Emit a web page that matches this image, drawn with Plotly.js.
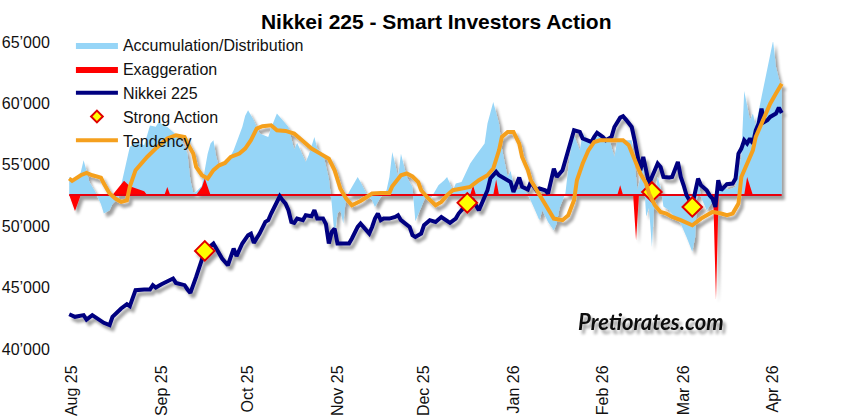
<!DOCTYPE html>
<html><head><meta charset="utf-8">
<script src="https://cdn.plot.ly/plotly-3.0.1.min.js"></script>
<style>
html,body{margin:0;padding:0;background:#fff;}
#chart{width:846px;height:420px;}
</style>
</head><body>
<svg width="0" height="0" style="position:absolute">
 <defs>
  <filter id="shadow" x="-5%" y="-10%" width="115%" height="130%">
   <feGaussianBlur in="SourceAlpha" stdDeviation="1.8" result="blur"/>
   <feOffset in="blur" dx="3" dy="4" result="off"/>
   <feComponentTransfer in="off" result="soft"><feFuncA type="linear" slope="0.38"/></feComponentTransfer>
   <feMerge><feMergeNode in="soft"/><feMergeNode in="SourceGraphic"/></feMerge>
  </filter>
 </defs>
</svg>
<div id="chart"></div>
<script>
const B = 52550; // baseline level of the Accumulation/Distribution band

const monthTickDates = ['2025-08-01','2025-09-01','2025-10-01','2025-11-01','2025-12-01','2026-01-01','2026-02-01','2026-03-01','2026-04-01'];
const monthTickLabels = ['Aug 25','Sep 25','Oct 25','Nov 25','Dec 25','Jan 26','Feb 26','Mar 26','Apr 26'];
const yTickVals = [40000,45000,50000,55000,60000,65000];
const yTickLabels = ['40’000','45’000','50’000','55’000','60’000','65’000'];

const nikkeiDates = [
 '2025-07-31','2025-08-02','2025-08-05','2025-08-06','2025-08-08','2025-08-10','2025-08-12','2025-08-14','2025-08-15','2025-08-18','2025-08-20','2025-08-21','2025-08-22','2025-08-23','2025-08-26','2025-08-28','2025-08-29','2025-08-30',
 '2025-09-01','2025-09-03','2025-09-05','2025-09-06','2025-09-09','2025-09-10','2025-09-11','2025-09-13','2025-09-15','2025-09-16','2025-09-19','2025-09-21','2025-09-22','2025-09-24','2025-09-25','2025-09-26','2025-09-27','2025-09-29',
 '2025-10-01','2025-10-02','2025-10-03','2025-10-05','2025-10-07','2025-10-08','2025-10-09','2025-10-10','2025-10-11','2025-10-12','2025-10-13','2025-10-14','2025-10-15','2025-10-16','2025-10-17','2025-10-18','2025-10-20','2025-10-21','2025-10-23','2025-10-24','2025-10-25','2025-10-27','2025-10-28','2025-10-29','2025-10-30','2025-10-31',
 '2025-11-01','2025-11-03','2025-11-05','2025-11-06','2025-11-08','2025-11-09','2025-11-11','2025-11-12','2025-11-13','2025-11-14','2025-11-15','2025-11-16','2025-11-17','2025-11-19','2025-11-21','2025-11-22','2025-11-23','2025-11-26','2025-11-27','2025-11-28','2025-11-30',
 '2025-12-01','2025-12-03','2025-12-05','2025-12-07','2025-12-08','2025-12-10','2025-12-12','2025-12-13','2025-12-15','2025-12-16','2025-12-18','2025-12-20','2025-12-21','2025-12-23','2025-12-24','2025-12-26','2025-12-27','2025-12-29','2025-12-31',
 '2026-01-01','2026-01-02','2026-01-03','2026-01-04','2026-01-06','2026-01-07','2026-01-08','2026-01-09','2026-01-10','2026-01-12','2026-01-13','2026-01-14','2026-01-15','2026-01-16','2026-01-18','2026-01-19','2026-01-20','2026-01-21','2026-01-22','2026-01-24','2026-01-25','2026-01-26','2026-01-28','2026-01-29','2026-01-30',
 '2026-02-01','2026-02-02','2026-02-04','2026-02-05','2026-02-07','2026-02-08','2026-02-09','2026-02-11','2026-02-12','2026-02-13','2026-02-14','2026-02-15','2026-02-16','2026-02-17','2026-02-19','2026-02-20','2026-02-21','2026-02-22','2026-02-24','2026-02-25','2026-02-27','2026-02-28',
 '2026-03-01','2026-03-02','2026-03-04','2026-03-05','2026-03-06','2026-03-07','2026-03-09','2026-03-10','2026-03-11','2026-03-12','2026-03-13','2026-03-14','2026-03-15','2026-03-16','2026-03-18','2026-03-19','2026-03-20','2026-03-21','2026-03-22','2026-03-23','2026-03-24','2026-03-25','2026-03-26','2026-03-27','2026-03-28','2026-03-29','2026-03-30','2026-03-31',
 '2026-04-02','2026-04-03','2026-04-04'];
const nikkeiValues = [
 42830,42620,42760,42400,42760,42400,42130,41940,42620,43300,43650,43490,44110,44790,44850,44850,45200,45010,
 45280,45550,45740,45380,45200,44850,44570,45870,47370,47990,48590,47780,47370,46820,47640,48180,47560,48590,
 49270,49400,48640,49400,50350,50490,51030,51520,51980,52440,52110,51840,51300,50350,50270,50620,50490,50890,50810,51300,50620,50620,50170,48590,49530,49810,
 48590,48590,48590,49000,49940,50210,49670,49400,49940,50620,51030,50490,50620,50620,50750,50890,50490,49940,49270,49130,49400,
 50080,50490,50350,50750,50620,50270,50620,51030,51570,51840,52110,51300,51840,52930,53880,54420,54150,53880,53600,
 52790,53470,53960,53200,52980,53600,53200,52930,53070,52930,52660,53740,54690,54010,54560,55370,56180,57000,57810,57680,57140,57050,56860,57270,57600,
 57270,57000,57270,58080,58840,58950,58680,58080,57000,55640,54560,55640,54560,53470,54560,55100,54830,54010,53960,54010,55230,54010,
 53330,52520,51710,52660,53880,53330,52930,52520,52250,51570,53740,52930,53200,53420,53470,53880,55910,56320,57000,56730,57140,56730,57810,58350,59580,58490,58630,58900,
 59170,59660,59220];

const tendencyDates = [
 '2025-07-31','2025-08-01','2025-08-04','2025-08-06','2025-08-08','2025-08-11','2025-08-12','2025-08-14','2025-08-16','2025-08-18','2025-08-20','2025-08-21','2025-08-23','2025-08-25','2025-08-27','2025-08-30',
 '2025-09-01','2025-09-03','2025-09-06','2025-09-09','2025-09-10','2025-09-12','2025-09-13','2025-09-15','2025-09-17','2025-09-19','2025-09-21','2025-09-23','2025-09-25','2025-09-28','2025-09-30',
 '2025-10-02','2025-10-04','2025-10-06','2025-10-09','2025-10-11','2025-10-14','2025-10-17','2025-10-19','2025-10-23','2025-10-26','2025-10-29','2025-10-31',
 '2025-11-02','2025-11-04','2025-11-06','2025-11-09','2025-11-11','2025-11-13','2025-11-16','2025-11-19','2025-11-20','2025-11-23','2025-11-25','2025-11-27','2025-11-29','2025-11-30',
 '2025-12-02','2025-12-05','2025-12-07','2025-12-09','2025-12-11','2025-12-14','2025-12-17','2025-12-20','2025-12-23','2025-12-25','2025-12-27','2025-12-28','2025-12-30',
 '2026-01-01','2026-01-03','2026-01-04','2026-01-06','2026-01-07','2026-01-09','2026-01-11','2026-01-13','2026-01-15','2026-01-18','2026-01-20','2026-01-22','2026-01-23','2026-01-25','2026-01-27','2026-01-29','2026-01-31',
 '2026-02-03','2026-02-08','2026-02-10','2026-02-12','2026-02-14','2026-02-16','2026-02-17','2026-02-19','2026-02-21','2026-02-23','2026-02-25','2026-02-28',
 '2026-03-02','2026-03-04','2026-03-07','2026-03-09','2026-03-11','2026-03-14','2026-03-16','2026-03-18','2026-03-20','2026-03-21','2026-03-23','2026-03-25','2026-03-26','2026-03-28','2026-03-30','2026-03-31',
 '2026-04-02','2026-04-04'];
const tendencyValues = [
 53880,53690,54150,54340,54150,53960,53470,52660,52250,51980,52110,53200,54560,55100,55640,56320,
 56730,57140,57410,57270,56730,55910,54830,54150,53880,54560,54960,55150,55640,55910,56320,
 57000,57950,58140,58220,57810,57760,57540,57140,56320,55910,55500,54550,
 53050,52250,51700,52050,52380,52660,52710,52710,53250,54150,54290,54050,53600,52930,
 52380,51710,51980,52520,52930,53070,53200,53740,54150,54690,56180,57270,57680,
 57680,56730,55640,54560,53740,52930,52110,51300,50620,50490,50890,52110,53740,55100,56180,56860,57000,
 57000,57000,56590,55500,54290,53470,52660,51710,51160,51030,50750,50490,
 50270,50080,50620,50890,51160,51030,50890,51030,51840,54010,55100,56180,57270,58350,59300,59980,
 60800,61610];

const accumDates = [
 '2025-07-31','2025-08-02','2025-08-04','2025-08-05','2025-08-07','2025-08-09','2025-08-11','2025-08-12','2025-08-14','2025-08-15','2025-08-17','2025-08-19','2025-08-21','2025-08-23','2025-08-26','2025-08-28','2025-08-30','2025-08-31',
 '2025-09-03','2025-09-05','2025-09-08','2025-09-10','2025-09-11','2025-09-12','2025-09-13','2025-09-15','2025-09-16','2025-09-17','2025-09-18','2025-09-19','2025-09-20','2025-09-21','2025-09-24','2025-09-26','2025-09-29','2025-09-30',
 '2025-10-01','2025-10-03','2025-10-05','2025-10-08','2025-10-09','2025-10-11','2025-10-13','2025-10-15','2025-10-17','2025-10-18','2025-10-21','2025-10-22','2025-10-24','2025-10-25','2025-10-27','2025-10-28','2025-10-29','2025-10-30','2025-10-31',
 '2025-11-01','2025-11-02','2025-11-03','2025-11-04','2025-11-06','2025-11-08','2025-11-09','2025-11-11','2025-11-13','2025-11-14','2025-11-16','2025-11-18','2025-11-19','2025-11-20','2025-11-22','2025-11-23','2025-11-25','2025-11-27','2025-11-28','2025-11-30',
 '2025-12-02','2025-12-03','2025-12-06','2025-12-08','2025-12-09','2025-12-11','2025-12-12','2025-12-14','2025-12-16','2025-12-17','2025-12-19','2025-12-22','2025-12-23','2025-12-25','2025-12-27','2025-12-28','2025-12-30','2025-12-31',
 '2026-01-01','2026-01-02','2026-01-04','2026-01-06','2026-01-08','2026-01-10','2026-01-11','2026-01-13','2026-01-15','2026-01-16','2026-01-17','2026-01-19','2026-01-20','2026-01-21','2026-01-22','2026-01-24','2026-01-25','2026-01-27','2026-01-29','2026-01-31',
 '2026-02-02','2026-02-03','2026-02-05','2026-02-06','2026-02-09','2026-02-11','2026-02-12','2026-02-13','2026-02-14','2026-02-15','2026-02-16','2026-02-17','2026-02-18','2026-02-19','2026-02-20','2026-02-21','2026-02-22','2026-02-24','2026-02-26','2026-02-28',
 '2026-03-02','2026-03-04','2026-03-05','2026-03-06','2026-03-07','2026-03-09','2026-03-11','2026-03-13','2026-03-15','2026-03-17','2026-03-19','2026-03-21','2026-03-22','2026-03-24','2026-03-25','2026-03-26','2026-03-28','2026-03-30',
 '2026-04-01','2026-04-02','2026-04-03','2026-04-04'];
const accumValues = [
 54000,53700,54400,55370,53600,52800,51800,51030,51300,51800,52300,54290,56450,56860,56590,58200,58100,58490,
 58080,57680,57000,55910,53740,52700,52800,53300,54500,55900,56730,57000,55600,54830,55300,56180,58080,59000,
 59440,58630,57540,57270,58000,59170,58630,58080,56250,56800,55230,55780,57270,56300,55910,54830,53880,51840,49130,
 51030,51300,50210,52380,53200,54010,53600,52660,52110,51570,52380,52930,54000,56040,54010,55910,54010,53200,50400,51570,
 52660,52110,53330,53740,54010,52930,53470,53600,54560,55100,55780,56730,58360,60120,58360,56320,54010,54500,
 53500,52930,53100,52600,51570,50490,51300,50350,49670,50210,51500,52660,54690,56450,57400,56180,57540,56800,57140,57410,
 56860,57270,55640,57000,57000,57000,55100,52930,54000,54800,50800,51500,48300,52500,54000,53200,51600,51300,50700,50200,
 49130,47910,49130,54010,52380,51300,52000,52900,53100,53000,53200,55640,61000,58630,59170,58200,60530,62700,
 65100,62970,61880,61070];

const exaggerationDates = [
 '2025-07-31','2025-08-02','2025-08-04',
 '2025-08-15','2025-08-19','2025-08-21','2025-08-24','2025-08-26','2025-08-27',
 '2025-09-02','2025-09-03','2025-09-04',
 '2025-09-13','2025-09-15','2025-09-16','2025-09-18',
 '2025-12-17','2025-12-18','2025-12-19',
 '2025-12-25','2025-12-26','2025-12-27',
 '2026-02-06','2026-02-07','2026-02-08',
 '2026-02-11 12:00','2026-02-12 12:00','2026-02-13 12:00',
 '2026-03-11 06:00','2026-03-12 05:00','2026-03-13 03:00',
 '2026-03-22','2026-03-23','2026-03-25',
 '2026-04-04'];
const exaggerationValues = [
 B,51240,B,
 B,53700,53250,53000,52850,B,
 B,53200,B,
 B,53200,53880,B,
 B,53330,B,
 B,53800,B,
 B,53330,B,
 B,48860,B,
 B,44000,B,
 B,54000,B,
 B];

const strongDates = ['2025-09-16','2025-12-16','2026-02-18','2026-03-04'];
const strongValues = [47990,51900,52790,51570];

const FONT = 'Liberation Sans, Arial, Helvetica, sans-serif';
const BLUE = '#96D5F7';

const traces = [
 {x: accumDates, y: accumDates.map(() => B), mode:'lines', line:{width:0, color:BLUE}, showlegend:false, hoverinfo:'skip'},
 {x: accumDates, y: accumValues, mode:'lines', fill:'tonexty', fillcolor:BLUE, line:{width:0, color:BLUE}, name:'Accumulation/Distribution', legendrank:1},
 {x: exaggerationDates, y: exaggerationDates.map(() => B), mode:'lines', line:{width:0, color:'#FF0000'}, showlegend:false, hoverinfo:'skip'},
 {x: exaggerationDates, y: exaggerationValues, mode:'lines', fill:'tonexty', fillcolor:'#FF0000', line:{width:0, color:'#FF0000'}, name:'Exaggeration', legendrank:2},
 {x: [nikkeiDates[0], nikkeiDates[nikkeiDates.length-1]], y: [B, B], mode:'lines', line:{width:2, color:'#E8000B'}, showlegend:false, hoverinfo:'skip'},
 {x: nikkeiDates, y: nikkeiValues, mode:'lines', line:{width:4, color:'#000080'}, name:'Nikkei 225', legendrank:3},
 {x: strongDates, y: strongValues, mode:'markers', marker:{symbol:'diamond', size:15, color:'#FFFF00', line:{width:2, color:'#E00000'}}, name:'Strong Action', showlegend:false},
 {x: [null], y: [null], mode:'markers', marker:{symbol:'diamond', size:9, color:'#FFFF00', line:{width:2, color:'#E00000'}}, name:'Strong Action', legendrank:4, hoverinfo:'skip'},
 {x: tendencyDates, y: tendencyValues, mode:'lines', line:{width:4, color:'#F5A01E'}, name:'Tendency', legendrank:5}
];

const layout = {
 width: 846, height: 420,
 margin: {l:62, r:40, t:42, b:71, pad:0},
 paper_bgcolor:'#FFFFFF', plot_bgcolor:'#FFFFFF',
 font: {family: FONT, size:16, color:'#111111'},
 title: {text:'Nikkei 225 - Smart Investors Action', font:{family:FONT, size:21, weight:'bold', color:'#000000'},
         x:0.503, xref:'paper', xanchor:'center', y:0.948, yref:'container', yanchor:'middle'},
 showlegend: true,
 legend: {x:0.012, y:1.045, xanchor:'left', yanchor:'top', bgcolor:'rgba(0,0,0,0)', borderwidth:0, traceorder:'normal',
          itemwidth:42, font:{family:FONT, size:16, color:'#111111'}, tracegroupgap:0},
 xaxis: {type:'date', range:['2025-07-28 12:00','2026-04-12 10:00'], tickmode:'array', tickvals:monthTickDates, ticktext:monthTickLabels,
         tickangle:-90, showgrid:false, zeroline:false, showline:false, ticks:'outside', ticklen:9, tickcolor:'rgba(0,0,0,0)',
         tickfont:{family:FONT, size:16, color:'#111111'}, fixedrange:true},
 yaxis: {range:[40000,65000], tickmode:'array', tickvals:yTickVals, ticktext:yTickLabels, showgrid:false, zeroline:false, showline:false,
         ticks:'outside', ticklen:8, tickcolor:'rgba(0,0,0,0)', tickfont:{family:FONT, size:16, color:'#111111'}, fixedrange:true},
 annotations: [{text:'Pretiorates.com', xref:'paper', yref:'paper', x:0.792, y:0.09, xanchor:'center', yanchor:'middle', showarrow:false,
   font:{family:'Lato, Open Sans, sans-serif', size:22, weight:'bold', style:'italic', color:'#111111'}}]
};

Plotly.newPlot('chart', traces, layout, {displayModeBar:false, staticPlot:true}).then(() => {
 document.querySelectorAll('.scatterlayer').forEach(el => el.setAttribute('filter','url(#shadow)'));
 document.querySelectorAll('.annotation-text-g').forEach(el => el.setAttribute('filter','url(#shadow)'));
});
</script>
</body></html>
